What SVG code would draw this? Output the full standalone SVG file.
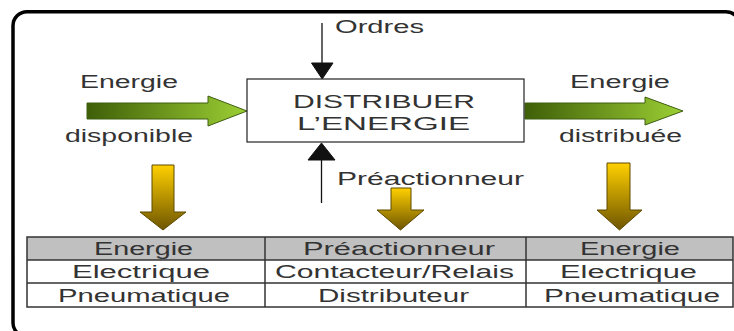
<svg xmlns="http://www.w3.org/2000/svg" width="734" height="331" viewBox="0 0 734 331">
<style>
text{font-family:"Liberation Sans",Arial,sans-serif;fill:#333;font-size:18px}
.c{text-anchor:middle}
.grn{stroke:#3e5e10;stroke-width:1}
.yel{stroke:#5c4a00;stroke-width:1}
.blk{fill:#111;stroke:#111}
.tb{stroke:#333;stroke-width:1.5;fill:none}
</style>
<defs>
<linearGradient id="gG" x1="0" y1="0" x2="1" y2="0">
<stop offset="0" stop-color="#3f5f08"/>
<stop offset="1" stop-color="#9ccf34"/>
</linearGradient>
<linearGradient id="gY" x1="0" y1="0" x2="0" y2="1">
<stop offset="0" stop-color="#ffd000"/>
<stop offset="1" stop-color="#6e5500"/>
</linearGradient>
</defs>
<rect x="13" y="11.7" width="727" height="325" rx="14" fill="none" stroke="#000" stroke-width="3.5"/>

<g id="connectors">
<line x1="322" y1="23" x2="322" y2="64" stroke="#111" stroke-width="1.3"/>
<polygon class="blk" points="311.5,63 333,63 322.2,79"/>
<line x1="321.5" y1="159" x2="321.5" y2="203" stroke="#111" stroke-width="1.3"/>
<polygon class="blk" points="308,160 335,160 321.5,143"/>
<path class="grn" fill="url(#gG)" d="M87,103 H208 V96 L247,111 L208,126 V119 H87 Z"/>
<path class="grn" fill="url(#gG)" d="M525,103 H645 V97 L683,111 L645,125 V119 H525 Z"/>
<path class="yel" fill="url(#gY)" d="M152,165 H174 V212 H186 L163,230 L140,212 H152 Z"/>
<path class="yel" fill="url(#gY)" d="M391,188 H411 V210 H424 L400.5,230 L377,210 H391 Z"/>
<path class="yel" fill="url(#gY)" d="M607,163 H630 V210 H642 L619.5,230 L597,210 H607 Z"/>
</g>

<g id="labels">
<text x="335" y="33" textLength="89" lengthAdjust="spacingAndGlyphs">Ordres</text>
<text x="80" y="88" textLength="98" lengthAdjust="spacingAndGlyphs">Energie</text>
<text x="65" y="142" textLength="128" lengthAdjust="spacingAndGlyphs">disponible</text>
<text x="570" y="88" textLength="100" lengthAdjust="spacingAndGlyphs">Energie</text>
<text x="559" y="142" textLength="123" lengthAdjust="spacingAndGlyphs">distribuée</text>
<text x="337" y="185" textLength="187" lengthAdjust="spacingAndGlyphs">Préactionneur</text>
</g>

<g id="node-distribuer">
<rect x="247" y="79" width="277" height="63" fill="#fff" stroke="#222" stroke-width="1.2"/>
<text x="293" y="108" textLength="182" lengthAdjust="spacingAndGlyphs">DISTRIBUER</text>
<text x="297" y="130" textLength="173" lengthAdjust="spacingAndGlyphs">L’ENERGIE</text>
</g>

<g id="table">
<rect x="27" y="237" width="706" height="23" fill="#c0c0c0"/>
<rect class="tb" x="27" y="237" width="706" height="70"/>
<line class="tb" x1="27" y1="260" x2="733" y2="260"/>
<line class="tb" x1="27" y1="283" x2="733" y2="283"/>
<line class="tb" x1="265" y1="237" x2="265" y2="307"/>
<line class="tb" x1="526" y1="237" x2="526" y2="307"/>
<text x="94" y="255" textLength="99" lengthAdjust="spacingAndGlyphs">Energie</text>
<text x="72" y="278" textLength="138" lengthAdjust="spacingAndGlyphs">Electrique</text>
<text x="58" y="302" textLength="172" lengthAdjust="spacingAndGlyphs">Pneumatique</text>
<text x="303" y="255" textLength="192" lengthAdjust="spacingAndGlyphs">Préactionneur</text>
<text x="275" y="278" textLength="239" lengthAdjust="spacingAndGlyphs">Contacteur/Relais</text>
<text x="318" y="302" textLength="151" lengthAdjust="spacingAndGlyphs">Distributeur</text>
<text x="580" y="255" textLength="100" lengthAdjust="spacingAndGlyphs">Energie</text>
<text x="560" y="278" textLength="137" lengthAdjust="spacingAndGlyphs">Electrique</text>
<text x="544" y="302" textLength="176" lengthAdjust="spacingAndGlyphs">Pneumatique</text>
</g>
</svg>
